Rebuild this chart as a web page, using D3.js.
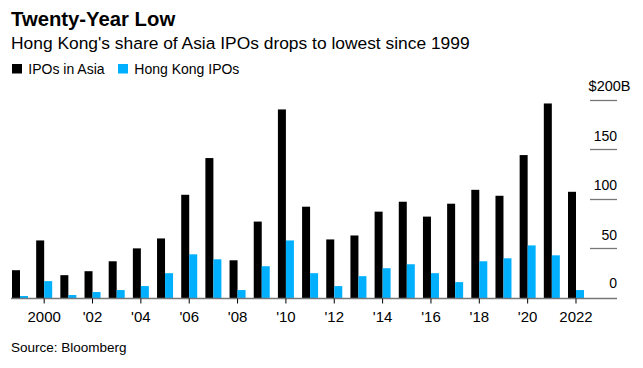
<!DOCTYPE html>
<html>
<head>
<meta charset="utf-8">
<script src="https://cdn.jsdelivr.net/npm/d3@7/dist/d3.min.js"></script>
<style>
  html, body { margin: 0; padding: 0; background: #fff; }
  svg { display: block; font-family: "Liberation Sans", Arial, sans-serif; }
</style>
</head>
<body>
<svg id="chart" width="643" height="368"></svg>
<script>
const years = [1999,2000,2001,2002,2003,2004,2005,2006,2007,2008,2009,2010,2011,2012,2013,2014,2015,2016,2017,2018,2019,2020,2021,2022];
const asiaIPOs = [28,58,23,27,37,50,60,104,141,38,77,190,92,59,63,87,97,82,95,109,103,144,196,107];
const hongKongIPOs = [2,17,3,6,8,12,25,44,39,8,32,58,25,12,22,30,34,25,16,37,40,53,43,8];
const seriesNames = ["IPOs in Asia", "Hong Kong IPOs"];
const seriesColors = ["#000000", "#00b0ff"];
const yTicks = [0, 50, 100, 150, 200];
const xTickYears = [2000,2002,2004,2006,2008,2010,2012,2014,2016,2018,2020,2022];

const svg = d3.select("#chart");

// Title and subtitle
svg.append("text").attr("x", 11).attr("y", 26)
  .attr("font-size", 20.3).attr("font-weight", "bold").attr("fill", "#000")
  .text("Twenty-Year Low");
svg.append("text").attr("x", 11).attr("y", 48.5)
  .attr("font-size", 17.4).attr("fill", "#000")
  .text("Hong Kong's share of Asia IPOs drops to lowest since 1999");

// Legend
const legend = svg.append("g");
const legendX = [12, 118];
seriesNames.forEach((name, i) => {
  legend.append("rect").attr("x", legendX[i]).attr("y", 64).attr("width", 10).attr("height", 9.5)
    .attr("fill", seriesColors[i]);
  legend.append("text").attr("x", legendX[i] + 16.3).attr("y", 73.5)
    .attr("font-size", 14).attr("fill", "#000").text(name);
});

// Scales
const x = d3.scaleBand().domain(years).range([12, 584]).paddingInner(0.338).paddingOuter(0);
const xSub = d3.scaleBand().domain([0, 1]).range([0, x.bandwidth()]);
const y = d3.scaleLinear().domain([0, 200]).range([298, 99.5]);

// Gridline ticks at right with labels
const grid = svg.append("g");
yTicks.filter(t => t > 0).forEach(t => {
  grid.append("line").attr("x1", 590).attr("x2", 617)
    .attr("y1", Math.round(y(t)) + 0.5).attr("y2", Math.round(y(t)) + 0.5)
    .attr("stroke", "#777").attr("stroke-width", 1.3);
});
yTicks.forEach(t => {
  const label = t === 200 ? "$200B" : String(t);
  grid.append("text")
    .attr("x", t === 200 ? 630.5 : 617)
    .attr("y", y(t) - (t === 0 ? 10.5 : 8.5))
    .attr("text-anchor", "end").attr("font-size", t === 200 ? 14.5 : 14).attr("fill", "#000")
    .text(label);
});

// Bars
const data = years.map((yr, i) => ({ year: yr, vals: [asiaIPOs[i], hongKongIPOs[i]] }));
const groups = svg.append("g").selectAll("g").data(data).join("g")
  .attr("transform", d => `translate(${x(d.year)},0)`);
groups.selectAll("rect").data(d => d.vals.map((v, k) => ({ v, k }))).join("rect")
  .attr("x", d => xSub(d.k))
  .attr("width", xSub.bandwidth())
  .attr("y", d => y(d.v))
  .attr("height", d => y(0) - y(d.v))
  .attr("fill", d => seriesColors[d.k]);

// Baseline
svg.append("line").attr("x1", 11).attr("x2", 617)
  .attr("y1", 298.5).attr("y2", 298.5).attr("stroke", "#777").attr("stroke-width", 1.3);

// X axis ticks and labels
const xAxisG = svg.append("g").attr("transform", "translate(0,298.5)");
xAxisG.call(d3.axisBottom(x).tickValues(xTickYears).tickSize(5).tickPadding(8)
  .tickFormat(d => (d === 2000 || d === 2022) ? String(d) : "'" + String(d).slice(2)));
xAxisG.select(".domain").remove();
xAxisG.selectAll(".tick line").attr("stroke", "#000");
xAxisG.selectAll(".tick text").attr("font-size", 15).attr("fill", "#000")
  .attr("font-family", "Liberation Sans, Arial, sans-serif");

// Source
svg.append("text").attr("x", 11).attr("y", 352)
  .attr("font-size", 13.5).attr("fill", "#000").text("Source: Bloomberg");
</script>
</body>
</html>
